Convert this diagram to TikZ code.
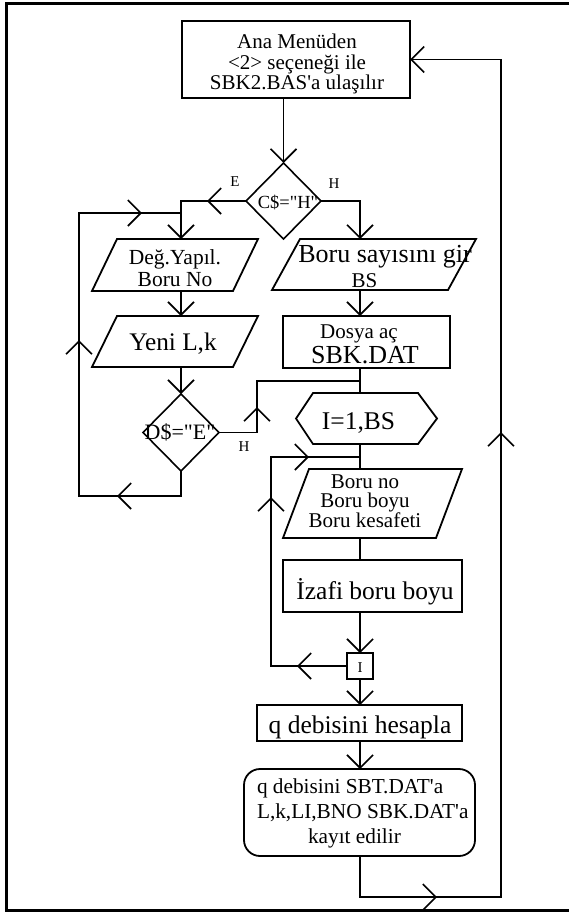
\documentclass[tikz,border=0pt]{standalone}
\usepackage{fontspec}
\setmainfont{Liberation Serif}[Ligatures=TeXOff]
\usetikzlibrary{arrows.meta,shapes.geometric,decorations.markings,calc}

% font size helper: size, baseline skip (lines keep exact spacing)
\newcommand\fsz[2]{\fontsize{#1pt}{#2pt}\selectfont\lineskiplimit=-100pt\relax}

\tikzset{openv/.tip={Straight Barb[length=13pt,width=26pt]}}

\begin{document}
\begin{tikzpicture}[x=1pt,y=-1pt,
  box/.style={draw, rectangle, line width=1.8pt, inner sep=0pt, outer sep=0pt},
  frame/.style={rectangle, inner sep=0pt, outer sep=0pt},
  dec/.style={draw, diamond, line width=1.6pt, inner sep=0pt, outer sep=0pt},
  outl/.style={line width=1.8pt, line join=miter},
  flow/.style={line width=1.6pt},
  endtip/.style={-openv},
  midtips/.style={postaction={decorate, decoration={markings, #1}}},
  txt/.style={inner sep=0pt, outer sep=0pt}]

\useasboundingbox (0,0) rectangle (569,913);

% page frame
\draw[line width=2.6pt] (569,3.3) -- (6.3,3.3) -- (6.3,910.3) -- (569,910.3);

% column and rail positions
\coordinate (colL) at (181,0);
\coordinate (colM) at (360,0);
\coordinate (railL) at (79,0);
\coordinate (railI) at (271,0);
\coordinate (railR) at (501,0);
\coordinate (hBend) at (257,0);
\coordinate (retL) at (181,213);
\coordinate (lowL) at (181,496);
\coordinate (jH) at (360,381);
\coordinate (jI) at (360,457);
\coordinate (lowR) at (360,897);

% shapes
\node[box, minimum width=228pt, minimum height=77pt] (start) at (296,59.5) {};
\node[dec, minimum width=75pt, minimum height=76pt] (qC) at (283.5,201) {};
\node[frame, minimum width=166pt, minimum height=52pt] (deg) at (175,265) {};
\node[frame, minimum width=166pt, minimum height=51pt] (yeni) at (175,341.5) {};
\node[dec, minimum width=76pt, minimum height=77pt] (qD) at (181,432.5) {};
\node[frame, minimum width=204pt, minimum height=51pt] (bsg) at (374,264.5) {};
\node[box, minimum width=167pt, minimum height=52pt] (dosya) at (366.5,342) {};
\node[frame, minimum width=141pt, minimum height=51pt] (loopI) at (366.5,418.5) {};
\node[frame, minimum width=179pt, minimum height=69pt] (bno) at (372.5,503.5) {};
\node[box, minimum width=179pt, minimum height=52pt] (izafi) at (372.5,586) {};
\node[box, minimum width=26pt, minimum height=26pt] (iend) at (360,666) {};
\node[box, minimum width=205pt, minimum height=36pt] (qcalc) at (359.5,723) {};
\node[box, rounded corners=16pt, minimum width=231pt, minimum height=87pt] (save) at (359.5,812.5) {};

% input/output parallelograms
\draw[outl] ([xshift=25pt]deg.north west) -- (deg.north east) -- ([xshift=-25pt]deg.south east) -- (deg.south west) -- cycle;
\draw[outl] ([xshift=25pt]yeni.north west) -- (yeni.north east) -- ([xshift=-25pt]yeni.south east) -- (yeni.south west) -- cycle;
\draw[outl] ([xshift=28pt]bsg.north west) -- (bsg.north east) -- ([xshift=-28pt]bsg.south east) -- (bsg.south west) -- cycle;
\draw[outl] ([xshift=26pt]bno.north west) -- (bno.north east) -- ([xshift=-26pt]bno.south east) -- (bno.south west) -- cycle;
% loop head hexagon
\draw[outl] ([xshift=17pt]loopI.north west) -- ([xshift=-19pt]loopI.north east) -- (loopI.east)
  -- ([xshift=-19pt]loopI.south east) -- ([xshift=17pt]loopI.south west) -- (loopI.west) -- cycle;

% connectors
\draw[flow, endtip] (start.south -| qC.north) -- (qC.north);
\draw[flow, endtip, midtips={mark=at position 39pt with {\arrow{openv}}}]
  (qC.west) -- (qC.west -| colL) -- (deg.north -| colL);
\draw[flow, endtip] (qC.east) -- (qC.east -| colM) -- (bsg.north -| colM);
\draw[flow, endtip] (deg.south -| colL) -- (yeni.north -| colL);
\draw[flow, endtip] (yeni.south -| colL) -- (qD.north);
\draw[flow, midtips={mark=at position 89pt with {\arrow{openv}},
                     mark=at position 283pt with {\arrow{openv}},
                     mark=at position 473pt with {\arrow{openv}}}]
  (qD.south) -- (lowL) -- (lowL -| railL) -- (railL |- retL) -- (retL);
\draw[flow, midtips={mark=at position 63.5pt with {\arrow{openv}}}]
  (qD.east) -- (qD.east -| hBend) -- (hBend |- jH) -- (jH);
\draw[flow, endtip] (bsg.south -| colM) -- (dosya.north -| colM);
\draw[flow] (dosya.south -| colM) -- (loopI.north -| colM);
\draw[flow] (loopI.south -| colM) -- (bno.north -| colM);
\draw[flow] (bno.south -| colM) -- (izafi.north -| colM);
\draw[flow, endtip] (izafi.south -| colM) -- (iend.north);
\draw[flow, midtips={mark=at position 50pt with {\arrow{openv}},
                     mark=at position 245pt with {\arrow{openv}},
                     mark=at position 323pt with {\arrow{openv}}}]
  (iend.west) -- (iend.west -| railI) -- (railI |- jI) -- (jI);
\draw[flow, endtip] (iend.south) -- (qcalc.north -| colM);
\draw[flow, endtip] (qcalc.south -| colM) -- (save.north -| colM);
\draw[flow, endtip, midtips={mark=at position 118pt with {\arrow{openv}},
                             mark=at position 647pt with {\arrow{openv}}}]
  (save.south -| colM) -- (lowR) -- (lowR -| railR) -- (railR |- start.east) -- (start.east);

% texts
\node[txt, align=center, font=\fsz{21}{20.5}] (tStart) at (297,64.9)
  {\strut Ana Menüden\\\strut <2> seçeneği ile\\\strut SBK2.BAS\textquotesingle a ulaşılır};
\node[txt, anchor=base, font=\fsz{18.5}{20}] (tC) at (288,208) {C\$=\textquotedbl H\textquotedbl};
\node[txt, anchor=base, font=\fsz{15}{16}] (tE) at (235,186.5) {E};
\node[txt, anchor=base, font=\fsz{15}{16}] (tH1) at (334,188) {H};
\node[txt, align=center, font=\fsz{21.5}{22}] (tDeg) at (175,270.6) {\strut Değ.Yapıl.\\\strut Boru No};
\node[txt, anchor=base, font=\fsz{26}{28}] (tBsg) at (385,262) {Boru sayısını gir};
\node[txt, anchor=base, font=\fsz{21}{24}] (tBS) at (364.5,287) {BS};
\node[txt, anchor=base, font=\fsz{25.3}{28}] (tYeni) at (173,350) {Yeni L,k};
\node[txt, anchor=base, font=\fsz{22}{24}] (tD) at (180,439) {D\$=\textquotedbl E\textquotedbl};
\node[txt, anchor=base, font=\fsz{15}{16}] (tH2) at (244,451.5) {H};
\node[txt, anchor=base, font=\fsz{21}{24}] (tDos) at (359,338) {Dosya aç};
\node[txt, anchor=base, font=\fsz{26}{28}] (tDat) at (365,363) {SBK.DAT};
\node[txt, anchor=base, font=\fsz{25.5}{28}] (tLoop) at (358.5,429) {I=1,BS};
\node[txt, align=center, font=\fsz{21}{19.5}] (tBno) at (365,503.6)
  {\strut Boru no\\\strut Boru boyu\\\strut Boru kesafeti};
\node[txt, anchor=base, font=\fsz{25.5}{28}] (tIz) at (375,599) {İzafi boru boyu};
\node[txt, anchor=base, font=\fsz{15}{16}] (tI) at (360,672.5) {I};
\node[txt, anchor=base, font=\fsz{25.5}{28}] (tQ) at (360,733) {q debisini hesapla};
\node[txt, anchor=west, align=left, font=\fsz{21.3}{25}] (tSave) at (257,813.2)
  {\strut q debisini SBT.DAT\textquotesingle a\\\strut L,k,LI,BNO SBK.DAT\textquotesingle a\\\strut\hspace*{51pt}kayıt edilir};
\end{tikzpicture}
\end{document}
